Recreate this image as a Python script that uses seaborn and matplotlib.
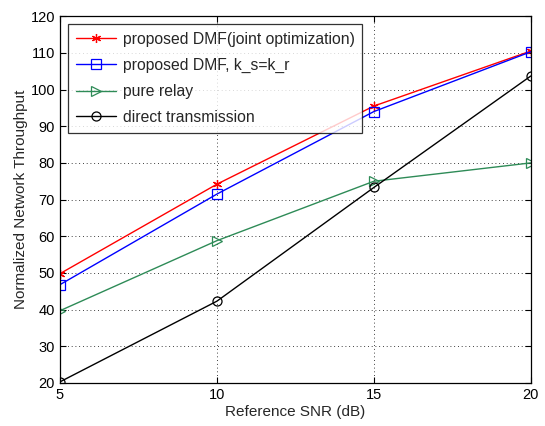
import matplotlib
matplotlib.use("Agg")
import matplotlib.pyplot as plt
import seaborn as sns
import pandas as pd

snr = [5, 10, 15, 20]
series_names = ["proposed DMF(joint optimization)", "proposed DMF, k_s=k_r",
                "pure relay", "direct transmission"]
joint_opt = [49.8, 74.2, 95.5, 110.5]
dmf_equal = [46.8, 71.5, 94.0, 110.3]
pure_relay = [39.7, 58.8, 75.0, 80.0]
direct_tx = [20.3, 42.3, 73.3, 103.7]
x_ticks = [5, 10, 15, 20]
y_ticks = [20, 30, 40, 50, 60, 70, 80, 90, 100, 110, 120]

colors = ["#ff0000", "#0000ff", "#2e8b57", "#000000"]
markers = [(6, 2, 0), "s", ">", "o"]

sns.set_theme(style="white")
plt.rcParams["font.family"] = ["Liberation Sans", "DejaVu Sans"]

fig = plt.figure(figsize=(5.45, 4.26), dpi=100)
ax = fig.add_axes([0.110, 0.101, 0.864, 0.861])

values = [joint_opt, dmf_equal, pure_relay, direct_tx]
for name, vals, c in zip(series_names, values, colors):
    df = pd.DataFrame({"snr": snr, "thr": vals})
    sns.lineplot(data=df, x="snr", y="thr", ax=ax, color=c, marker="o",
                 linewidth=1.0, label=name)

for line, c, m in zip(ax.lines, colors, markers):
    line.set_marker(m)
    line.set_markeredgecolor(c)
    line.set_markeredgewidth(0.9)
    line.set_markerfacecolor("none")
    line.set_markersize(6.5)

ax.set_xlim(5, 20)
ax.set_ylim(20, 120)
ax.set_xticks(x_ticks)
ax.set_yticks(y_ticks)
ax.grid(True, color="black", linestyle=(0, (1, 3.5)), linewidth=0.6)
ax.tick_params(direction="in", top=True, right=True, length=4, width=0.8,
               labelsize=10.5, colors="black", bottom=True, left=True)
for s in ax.spines.values():
    s.set_color("black")
    s.set_linewidth(0.9)
ax.set_xlabel("Reference SNR (dB)", fontsize=11, labelpad=2)
ax.set_ylabel("Normalized Network Throughput", fontsize=11, labelpad=2)

leg = ax.legend(handles=ax.lines, labels=series_names, loc="upper left",
                fontsize=11.3, frameon=True, fancybox=False, edgecolor="black",
                handlelength=2.6, handletextpad=0.4, borderaxespad=0.5,
                labelspacing=0.7, borderpad=0.5)
leg.get_frame().set_linewidth(0.9)

fig.savefig("out.png", dpi=100)
